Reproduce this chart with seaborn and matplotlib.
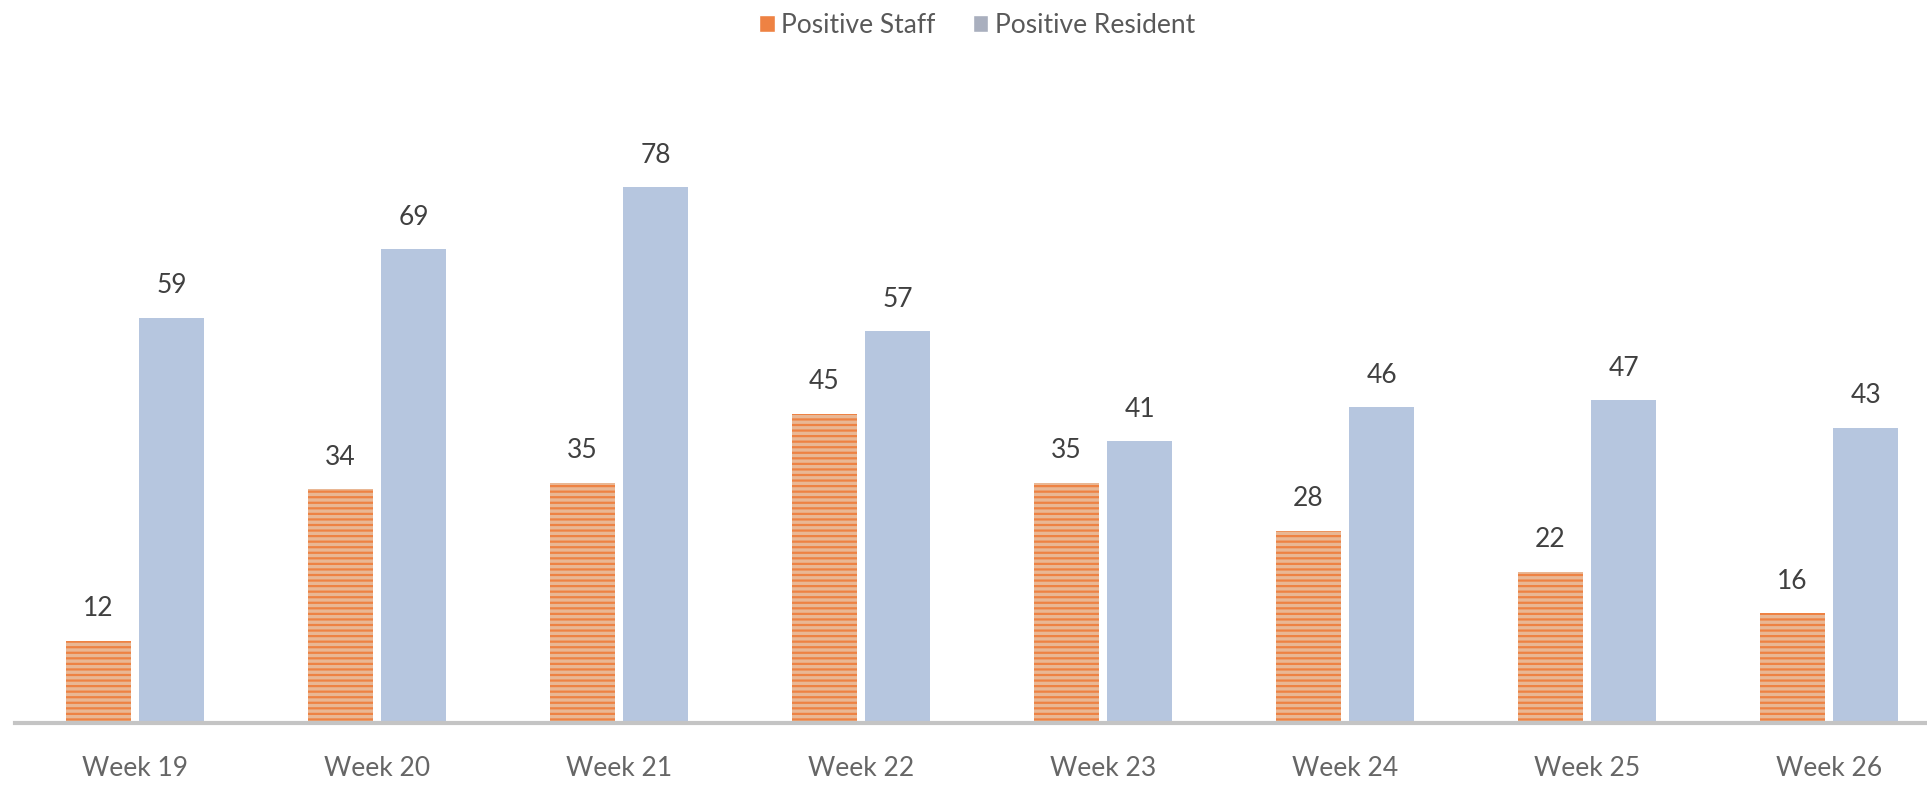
import numpy as np
import pandas as pd
import matplotlib
matplotlib.use("Agg")
import matplotlib.pyplot as plt
from matplotlib.patches import Patch
import seaborn as sns

# ---------------------------------------------------------
# Data
# ---------------------------------------------------------
weeks = ["Week 19", "Week 20", "Week 21", "Week 22",
         "Week 23", "Week 24", "Week 25", "Week 26"]
staff = [12, 34, 35, 45, 35, 28, 22, 16]
resident = [59, 69, 78, 57, 41, 46, 47, 43]
series = ["Positive Staff", "Positive Resident"]

df = pd.DataFrame({
    "week": weeks * 2,
    "value": staff + resident,
    "series": [series[0]] * len(weeks) + [series[1]] * len(weeks),
})

STAFF_FACE = "#F7B486"
STAFF_LINE = "#EE8243"
RES_FACE = "#AFC4E6"

sns.set_style("white")
plt.rcParams["font.family"] = ["Lato", "DejaVu Sans"]
plt.rcParams["hatch.linewidth"] = 1.6

fig = plt.figure(figsize=(19.27, 7.89), dpi=100)
ax = fig.add_axes([15 / 1927, 66 / 789, 1 - 15 / 1927, 623 / 789])

sns.barplot(data=df, x="week", y="value", hue="series",
            palette=[STAFF_FACE, RES_FACE], width=0.605, gap=0.11,
            legend=False, ax=ax)

# striped staff bars
for bar in ax.containers[0]:
    bar.set_hatch("---")
    bar.set_edgecolor(STAFF_LINE)
    bar.set_linewidth(0)
for bar in ax.containers[1]:
    bar.set_linewidth(0)

for cont in ax.containers:
    ax.bar_label(cont, padding=14, fontsize=19, color="#404040")

ax.set_xlim(-0.496, 7.405)
ax.set_ylim(0, 90.7)
ax.set_xlabel("")
ax.set_ylabel("")
ax.set_yticks([])
for side in ["top", "right", "left"]:
    ax.spines[side].set_visible(False)
ax.spines["bottom"].set_color("#C4C4C4")
ax.spines["bottom"].set_linewidth(3)
ax.tick_params(axis="x", length=0, pad=24, labelsize=19, labelcolor="#666666")

handles = [Patch(facecolor="#EE8243", label=series[0]),
           Patch(facecolor="#A9AFBE", label=series[1])]
fig.legend(handles=handles, loc="center", bbox_to_anchor=(0.507, 0.968),
           ncol=2, frameon=False, fontsize=19, labelcolor="#595959",
           handlelength=0.6, handleheight=0.6, handletextpad=0.25,
           columnspacing=1.4)

fig.savefig("out.png", dpi=100)
